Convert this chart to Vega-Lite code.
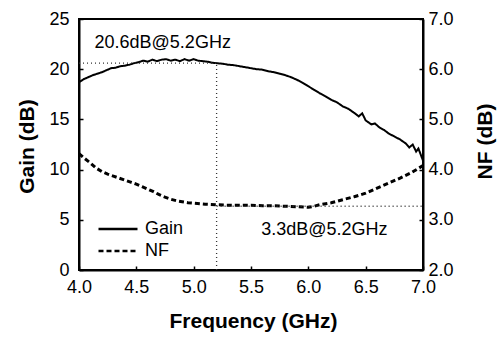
{
  "$schema": "https://vega.github.io/schema/vega-lite/v6.json",
  "width": 344,
  "height": 251,
  "autosize": "none",
  "padding": {"left": 79, "top": 19, "right": 80, "bottom": 67},
  "config": {
    "view": {"stroke": "black", "strokeWidth": 2},
    "font": "Liberation Sans",
    "axis": {
      "grid": false,
      "domainColor": "black",
      "domainWidth": 2,
      "tickColor": "black",
      "tickWidth": 1.5,
      "tickSize": -4,
      "labelFont": "Liberation Sans",
      "labelFontSize": 18,
      "labelColor": "black",
      "titleFont": "Liberation Sans",
      "titleFontSize": 21,
      "titleFontWeight": "bold",
      "titleColor": "black"
    }
  },
  "datasets": {
    "gain": [
      {"f": 4.00, "g": 18.7, "s": "Gain"},
      {"f": 4.04, "g": 19.0, "s": "Gain"},
      {"f": 4.08, "g": 19.2, "s": "Gain"},
      {"f": 4.12, "g": 19.4, "s": "Gain"},
      {"f": 4.16, "g": 19.55, "s": "Gain"},
      {"f": 4.20, "g": 19.7, "s": "Gain"},
      {"f": 4.24, "g": 19.9, "s": "Gain"},
      {"f": 4.28, "g": 20.1, "s": "Gain"},
      {"f": 4.32, "g": 20.15, "s": "Gain"},
      {"f": 4.36, "g": 20.3, "s": "Gain"},
      {"f": 4.40, "g": 20.35, "s": "Gain"},
      {"f": 4.44, "g": 20.45, "s": "Gain"},
      {"f": 4.48, "g": 20.6, "s": "Gain"},
      {"f": 4.52, "g": 20.7, "s": "Gain"},
      {"f": 4.56, "g": 20.85, "s": "Gain"},
      {"f": 4.60, "g": 20.75, "s": "Gain"},
      {"f": 4.64, "g": 20.95, "s": "Gain"},
      {"f": 4.68, "g": 20.8, "s": "Gain"},
      {"f": 4.72, "g": 20.95, "s": "Gain"},
      {"f": 4.76, "g": 21.0, "s": "Gain"},
      {"f": 4.80, "g": 20.85, "s": "Gain"},
      {"f": 4.84, "g": 20.95, "s": "Gain"},
      {"f": 4.88, "g": 20.8, "s": "Gain"},
      {"f": 4.92, "g": 21.0, "s": "Gain"},
      {"f": 4.96, "g": 20.85, "s": "Gain"},
      {"f": 5.00, "g": 21.0, "s": "Gain"},
      {"f": 5.04, "g": 20.85, "s": "Gain"},
      {"f": 5.08, "g": 20.8, "s": "Gain"},
      {"f": 5.12, "g": 20.75, "s": "Gain"},
      {"f": 5.16, "g": 20.65, "s": "Gain"},
      {"f": 5.20, "g": 20.6, "s": "Gain"},
      {"f": 5.25, "g": 20.55, "s": "Gain"},
      {"f": 5.30, "g": 20.45, "s": "Gain"},
      {"f": 5.35, "g": 20.4, "s": "Gain"},
      {"f": 5.40, "g": 20.3, "s": "Gain"},
      {"f": 5.45, "g": 20.2, "s": "Gain"},
      {"f": 5.50, "g": 20.1, "s": "Gain"},
      {"f": 5.55, "g": 20.0, "s": "Gain"},
      {"f": 5.60, "g": 19.95, "s": "Gain"},
      {"f": 5.65, "g": 19.8, "s": "Gain"},
      {"f": 5.70, "g": 19.7, "s": "Gain"},
      {"f": 5.75, "g": 19.55, "s": "Gain"},
      {"f": 5.80, "g": 19.4, "s": "Gain"},
      {"f": 5.85, "g": 19.2, "s": "Gain"},
      {"f": 5.90, "g": 18.95, "s": "Gain"},
      {"f": 5.95, "g": 18.65, "s": "Gain"},
      {"f": 6.00, "g": 18.3, "s": "Gain"},
      {"f": 6.05, "g": 17.95, "s": "Gain"},
      {"f": 6.10, "g": 17.6, "s": "Gain"},
      {"f": 6.15, "g": 17.3, "s": "Gain"},
      {"f": 6.20, "g": 16.95, "s": "Gain"},
      {"f": 6.25, "g": 16.7, "s": "Gain"},
      {"f": 6.30, "g": 16.3, "s": "Gain"},
      {"f": 6.35, "g": 16.05, "s": "Gain"},
      {"f": 6.40, "g": 15.65, "s": "Gain"},
      {"f": 6.44, "g": 15.3, "s": "Gain"},
      {"f": 6.47, "g": 15.6, "s": "Gain"},
      {"f": 6.50, "g": 14.9, "s": "Gain"},
      {"f": 6.55, "g": 14.5, "s": "Gain"},
      {"f": 6.58, "g": 14.6, "s": "Gain"},
      {"f": 6.62, "g": 14.2, "s": "Gain"},
      {"f": 6.66, "g": 13.95, "s": "Gain"},
      {"f": 6.70, "g": 13.6, "s": "Gain"},
      {"f": 6.75, "g": 13.3, "s": "Gain"},
      {"f": 6.80, "g": 13.0, "s": "Gain"},
      {"f": 6.85, "g": 12.6, "s": "Gain"},
      {"f": 6.88, "g": 12.2, "s": "Gain"},
      {"f": 6.91, "g": 12.5, "s": "Gain"},
      {"f": 6.94, "g": 11.8, "s": "Gain"},
      {"f": 6.96, "g": 12.1, "s": "Gain"},
      {"f": 6.98, "g": 11.5, "s": "Gain"},
      {"f": 7.00, "g": 10.9, "s": "Gain"}
    ],
    "nf": [
      {"f": 4.00, "n": 4.32, "s": "NF"},
      {"f": 4.05, "n": 4.22, "s": "NF"},
      {"f": 4.10, "n": 4.13, "s": "NF"},
      {"f": 4.15, "n": 4.03, "s": "NF"},
      {"f": 4.20, "n": 3.96, "s": "NF"},
      {"f": 4.25, "n": 3.91, "s": "NF"},
      {"f": 4.30, "n": 3.87, "s": "NF"},
      {"f": 4.35, "n": 3.83, "s": "NF"},
      {"f": 4.40, "n": 3.79, "s": "NF"},
      {"f": 4.45, "n": 3.75, "s": "NF"},
      {"f": 4.50, "n": 3.71, "s": "NF"},
      {"f": 4.55, "n": 3.66, "s": "NF"},
      {"f": 4.60, "n": 3.61, "s": "NF"},
      {"f": 4.65, "n": 3.56, "s": "NF"},
      {"f": 4.70, "n": 3.5, "s": "NF"},
      {"f": 4.75, "n": 3.45, "s": "NF"},
      {"f": 4.80, "n": 3.41, "s": "NF"},
      {"f": 4.85, "n": 3.38, "s": "NF"},
      {"f": 4.90, "n": 3.36, "s": "NF"},
      {"f": 4.95, "n": 3.34, "s": "NF"},
      {"f": 5.00, "n": 3.33, "s": "NF"},
      {"f": 5.10, "n": 3.31, "s": "NF"},
      {"f": 5.20, "n": 3.3, "s": "NF"},
      {"f": 5.30, "n": 3.29, "s": "NF"},
      {"f": 5.40, "n": 3.29, "s": "NF"},
      {"f": 5.50, "n": 3.29, "s": "NF"},
      {"f": 5.60, "n": 3.28, "s": "NF"},
      {"f": 5.70, "n": 3.28, "s": "NF"},
      {"f": 5.80, "n": 3.27, "s": "NF"},
      {"f": 5.90, "n": 3.26, "s": "NF"},
      {"f": 6.00, "n": 3.25, "s": "NF"},
      {"f": 6.05, "n": 3.27, "s": "NF"},
      {"f": 6.10, "n": 3.3, "s": "NF"},
      {"f": 6.20, "n": 3.34, "s": "NF"},
      {"f": 6.30, "n": 3.4, "s": "NF"},
      {"f": 6.40, "n": 3.46, "s": "NF"},
      {"f": 6.50, "n": 3.53, "s": "NF"},
      {"f": 6.60, "n": 3.63, "s": "NF"},
      {"f": 6.70, "n": 3.73, "s": "NF"},
      {"f": 6.80, "n": 3.83, "s": "NF"},
      {"f": 6.90, "n": 3.94, "s": "NF"},
      {"f": 7.00, "n": 4.08, "s": "NF"}
    ],
    "gref": [
      {"f": 4.0, "f2": 5.2, "g": 20.6, "g2": 20.6},
      {"f": 5.2, "f2": 5.2, "g": 0, "g2": 20.6}
    ],
    "nref": [
      {"f": 5.2, "f2": 7.0, "n": 3.27, "n2": 3.27}
    ],
    "glabel": [
      {"f": 4.73, "g": 22.6, "label": "20.6dB@5.2GHz"}
    ],
    "nlabel": [
      {"f": 6.14, "n": 2.8, "label": "3.3dB@5.2GHz"}
    ]
  },
  "encoding": {
    "x": {
      "field": "f",
      "type": "quantitative",
      "scale": {"domain": [4, 7], "nice": false, "zero": false},
      "axis": {
        "values": [4, 4.5, 5, 5.5, 6, 6.5, 7],
        "format": ".1f",
        "labelPadding": 12,
        "labelFlush": false,
        "title": "Frequency (GHz)",
        "titleX": 174,
        "titleY": 57,
        "titleBaseline": "alphabetic",
        "titleAnchor": "middle",
        "titleAlign": "center"
      }
    }
  },
  "layer": [
    {
      "encoding": {
        "y": {
          "field": "g",
          "type": "quantitative",
          "scale": {"domain": [0, 25], "nice": false},
          "axis": {
            "orient": "left",
            "values": [0, 5, 10, 15, 20, 25],
            "labelPadding": 14,
            "labelFlush": false,
            "title": "Gain (dB)",
            "titleAngle": -90,
            "titleX": -52,
            "titleY": 127,
            "titleAlign": "center",
            "titleBaseline": "middle"
          }
        }
      },
      "layer": [
        {
          "data": {"name": "gain"},
          "mark": {"type": "line", "color": "black", "strokeWidth": 2},
          "encoding": {
            "strokeDash": {
              "field": "s",
              "type": "nominal",
              "scale": {"domain": ["Gain", "NF"], "range": [[1, 0], [5, 3]]},
              "legend": {
                "orient": "none",
                "legendX": 18,
                "legendY": 200,
                "title": null,
                "symbolType": "stroke",
                "symbolSize": 1521,
                "symbolStrokeWidth": 2.5,
                "symbolStrokeColor": "black",
                "labelFont": "Liberation Sans",
                "labelFontSize": 18,
                "labelColor": "black",
                "labelOffset": 6,
                "clipHeight": 20,
                "rowPadding": 2,
                "padding": 0,
                "labelExpr": "datum.value == 'NF' ? '\u2002NF' : datum.label"
              }
            }
          }
        },
        {
          "data": {"name": "gref"},
          "mark": {"type": "rule", "color": "#333333", "strokeWidth": 1.3, "strokeDash": [1, 3]},
          "encoding": {
            "x2": {"field": "f2"},
            "y2": {"field": "g2"}
          }
        },
        {
          "data": {"name": "glabel"},
          "mark": {"type": "text", "font": "Liberation Sans", "fontSize": 18, "color": "black", "align": "center", "baseline": "middle"},
          "encoding": {"text": {"field": "label"}}
        }
      ]
    },
    {
      "encoding": {
        "y": {
          "field": "n",
          "type": "quantitative",
          "scale": {"domain": [2, 7], "nice": false, "zero": false},
          "axis": {
            "orient": "right",
            "values": [2, 3, 4, 5, 6, 7],
            "format": ".1f",
            "labelPadding": 9,
            "labelFlush": false,
            "title": "NF (dB)",
            "titleAngle": -90,
            "titleX": 62,
            "titleY": 122,
            "titleAlign": "center",
            "titleBaseline": "middle"
          }
        }
      },
      "layer": [
        {
          "data": {"name": "nf"},
          "mark": {"type": "line", "color": "black", "strokeWidth": 3},
          "encoding": {
            "strokeDash": {"field": "s", "type": "nominal"}
          }
        },
        {
          "data": {"name": "nref"},
          "mark": {"type": "rule", "color": "#333333", "strokeWidth": 1.3, "strokeDash": [1, 3]},
          "encoding": {
            "x2": {"field": "f2"},
            "y2": {"field": "n2"}
          }
        },
        {
          "data": {"name": "nlabel"},
          "mark": {"type": "text", "font": "Liberation Sans", "fontSize": 18, "color": "black", "align": "center", "baseline": "middle"},
          "encoding": {"text": {"field": "label"}}
        }
      ]
    }
  ],
  "resolve": {"scale": {"y": "independent"}}
}
